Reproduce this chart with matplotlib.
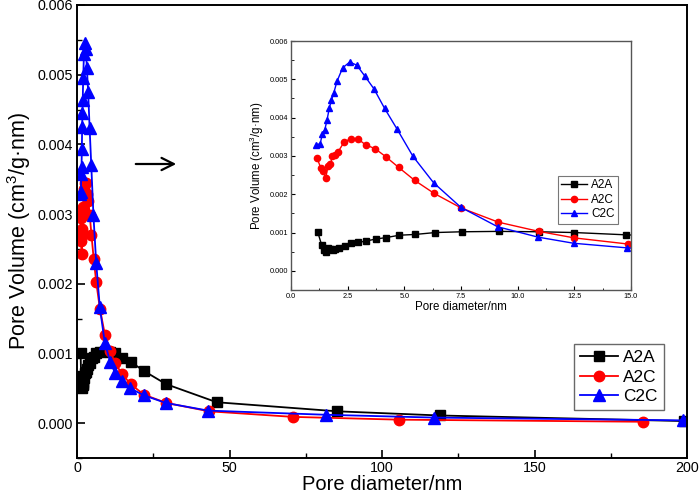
import matplotlib
matplotlib.use("Agg")
import matplotlib.pyplot as plt
from matplotlib.ticker import MultipleLocator

plt.rcParams['font.family'] = ['Liberation Sans', 'DejaVu Sans']
plt.rcParams['mathtext.fontset'] = 'custom'
plt.rcParams['mathtext.rm'] = 'Liberation Sans'

# ---------------- data ----------------
a2a_x = [1.18, 1.35, 1.44, 1.54, 1.63, 1.74, 1.84, 1.95, 2.10, 2.37, 2.65, 2.97, 3.32, 3.74,
         4.21, 4.78, 5.47, 6.37, 7.54, 9.16, 10.94, 12.5, 14.79, 17.6, 21.9, 29.2, 45.8,
         85.3, 119.0, 199.0]
a2a_y = [0.00101, 0.00068, 0.00055, 0.00050, 0.00059, 0.00058, 0.00055, 0.00056, 0.00059,
         0.00065, 0.00072, 0.00074, 0.00078, 0.00083, 0.00087, 0.00093, 0.00095, 0.00100,
         0.00102, 0.00103, 0.00102, 0.00100, 0.00094, 0.00088, 0.00075, 0.00056, 0.00030,
         0.00017, 0.00011, 0.00003]

a2c_x = [1.15, 1.32, 1.41, 1.53, 1.63, 1.74, 1.82, 1.93, 2.07, 2.34, 2.63, 2.94, 3.29, 3.71,
         4.18, 4.75, 5.46, 6.32, 7.51, 9.15, 10.93, 12.5, 14.87, 17.6, 21.9, 29.3, 43.3,
         70.8, 105.6, 185.7]
a2c_y = [0.00294, 0.00268, 0.00261, 0.00242, 0.00273, 0.00278, 0.00299, 0.00303, 0.00310,
         0.00336, 0.00345, 0.00345, 0.00329, 0.00319, 0.00298, 0.00270, 0.00236, 0.00202,
         0.00164, 0.00127, 0.00103, 0.00086, 0.00070, 0.00056, 0.00041, 0.00029, 0.00017,
         0.00009, 0.00005, 0.00002]

c2c_x = [1.12, 1.29, 1.38, 1.49, 1.59, 1.69, 1.78, 1.88, 2.03, 2.28, 2.59, 2.90, 3.25, 3.66,
         4.13, 4.68, 5.38, 6.29, 7.49, 9.12, 10.90, 12.47, 14.82, 17.4, 21.9, 29.1, 43.0,
         81.8, 116.9, 198.8]
c2c_y = [0.00329, 0.00332, 0.00357, 0.00368, 0.00394, 0.00425, 0.00445, 0.00463, 0.00495,
         0.00530, 0.00545, 0.00537, 0.00509, 0.00475, 0.00424, 0.00370, 0.00299, 0.00230,
         0.00166, 0.00115, 0.00088, 0.00072, 0.00060, 0.00050, 0.00040, 0.00029, 0.00018,
         0.00012, 0.00008, 0.00004]

labels = ['A2A', 'A2C', 'C2C']
ylabel = 'Pore Volume (cm$^3$/g\u00b7nm)'
xlabel = 'Pore diameter/nm'

series = [(a2a_x, a2a_y, 'black', 's'),
          (a2c_x, a2c_y, 'red', 'o'),
          (c2c_x, c2c_y, 'blue', '^')]

fig = plt.figure(figsize=(6.99, 4.97), dpi=100)

# ---------------- main axes ----------------
ax = fig.add_axes([77/699, 39/497, 610/699, 453/497])
msizes = [7, 7.5, 8]
for (x, y, c, m), lab, ms in zip(series, labels, msizes):
    ax.plot(x, y, color=c, marker=m, ms=ms, lw=1.3, label=lab)
ax.set_xlim(0, 200)
ax.set_ylim(-0.0005, 0.006)
ax.xaxis.set_major_locator(MultipleLocator(50))
ax.xaxis.set_minor_locator(MultipleLocator(25))
ax.yaxis.set_major_locator(MultipleLocator(0.001))
ax.yaxis.set_minor_locator(MultipleLocator(0.0005))
ax.yaxis.set_major_formatter(plt.FuncFormatter(lambda v, p: f'{v:.3f}'))
ax.tick_params(which='both', direction='in', top=False, right=False, labelsize=10.3, pad=2)
ax.tick_params(axis='y', pad=3)
ax.tick_params(which='major', length=6, width=1.2)
ax.tick_params(which='minor', length=3.5, width=1.0)
for s in ax.spines.values():
    s.set_linewidth(1.4)
ax.set_xlabel(xlabel, fontsize=14.5, labelpad=0)
ax.set_ylabel(ylabel, fontsize=15.5, labelpad=3)
leg = ax.legend(loc='lower right', bbox_to_anchor=(0.962, 0.106), fontsize=12.4,
                frameon=True, fancybox=False, edgecolor='#444444', handlelength=2.2,
                handletextpad=0.3, borderpad=0.35, labelspacing=0.25, borderaxespad=0)
leg.get_frame().set_linewidth(1.0)

# ---------------- inset ----------------
ins = fig.add_axes([291/699, (497-290)/497, 340/699, 249/497])
for (x, y, c, m), lab in zip(series, labels):
    ins.plot(x, y, color=c, marker=m, ms=4.5, lw=1.0, label=lab)
ins.set_xlim(0, 15)
ins.set_ylim(-0.0005, 0.006)
ins.xaxis.set_major_locator(MultipleLocator(2.5))
ins.xaxis.set_minor_locator(MultipleLocator(1.25))
ins.yaxis.set_major_locator(MultipleLocator(0.001))
ins.yaxis.set_minor_locator(MultipleLocator(0.0005))
ins.xaxis.set_major_formatter(plt.FuncFormatter(lambda v, p: f'{v:.1f}'))
ins.yaxis.set_major_formatter(plt.FuncFormatter(lambda v, p: f'{v:.3f}'))
ins.tick_params(which='both', direction='in', top=False, right=False, labelsize=5.3, pad=2)
ins.tick_params(which='major', length=3, width=0.8)
ins.tick_params(which='minor', length=1.8, width=0.6)
for s in ins.spines.values():
    s.set_linewidth(1.0)
    s.set_color('#555555')
ins.set_xlabel(xlabel, fontsize=8.3, labelpad=1)
ins.set_ylabel(ylabel, fontsize=8.3, labelpad=3)
ileg = ins.legend(loc='upper left', bbox_to_anchor=(0.785, 0.458), fontsize=8.5,
                  frameon=True, fancybox=False, edgecolor='#555555', handlelength=2.2,
                  handletextpad=0.3, borderpad=0.3, labelspacing=0.2, borderaxespad=0)
ileg.get_frame().set_linewidth(0.8)

# ---------------- arrow ----------------
fig.patches.append(matplotlib.patches.FancyArrowPatch(
    (133/699, 1-164/497), (179/699, 1-164/497), transform=fig.transFigure,
    arrowstyle='->', mutation_scale=22, lw=1.6, color='black'))

fig.savefig('out.png', dpi=100)
